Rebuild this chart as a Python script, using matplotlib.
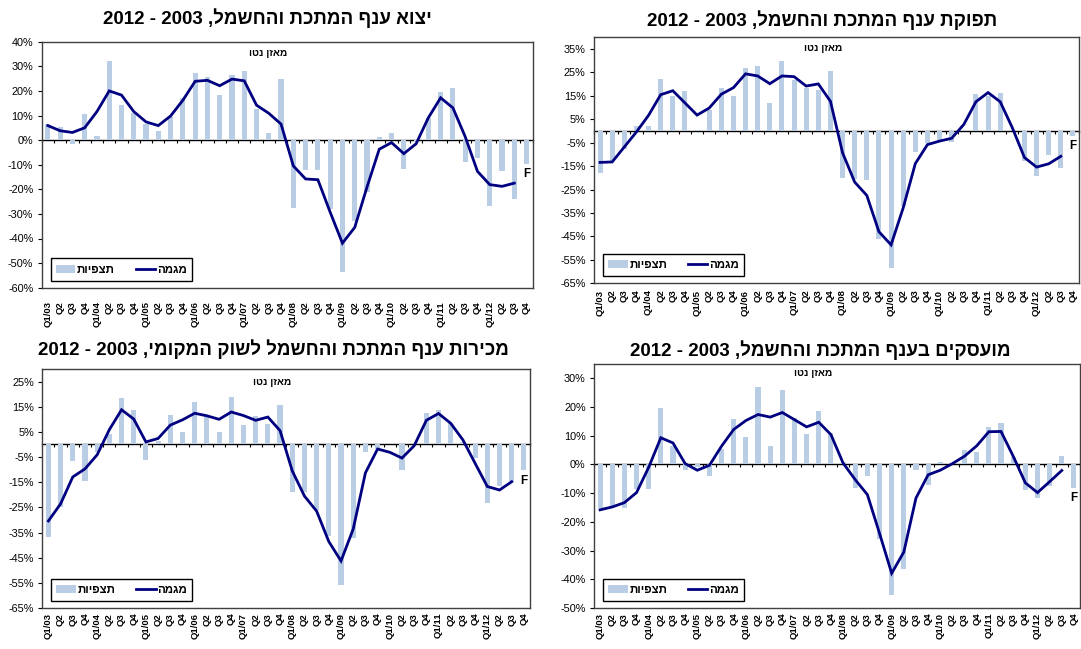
import re
import numpy as np
import matplotlib
matplotlib.use('Agg')
import matplotlib.pyplot as plt
from matplotlib.ticker import FuncFormatter

plt.rcParams['font.family'] = ['Liberation Sans', 'DejaVu Sans']

nan = np.nan

quarters = ['Q1/03', 'Q2', 'Q3', 'Q4', 'Q1/04', 'Q2', 'Q3', 'Q4',
            'Q1/05', 'Q2', 'Q3', 'Q4', 'Q1/06', 'Q2', 'Q3', 'Q4',
            'Q1/07', 'Q2', 'Q3', 'Q4', 'Q1/08', 'Q2', 'Q3', 'Q4',
            'Q1/09', 'Q2', 'Q3', 'Q4', 'Q1/10', 'Q2', 'Q3', 'Q4',
            'Q1/11', 'Q2', 'Q3', 'Q4', 'Q1/12', 'Q2', 'Q3', 'Q4']

# Export (top-left)
export_obs = [6.4, 5.3, -1.5, 10.6, 1.6, 32.3, 14.2, 11.0, 6.4, 3.7,
              9.3, 17.0, 27.1, 25.8, 18.3, 26.5, 28.0, 12.8, 2.7, 25.0,
              -27.4, -12.1, -12.3, -28.1, -53.5, -33.0, -20.9, 1.4, 2.9, -11.9,
              -0.5, 9.1, 19.4, 21.3, -8.7, -7.1, -26.9, -12.6, -23.9, -9.7]
export_trend = [5.9, 3.8, 3.1, 5.0, 11.6, 20.0, 18.3, 11.6, 7.4, 5.9,
                9.8, 16.2, 23.9, 24.3, 22.1, 24.8, 24.1, 14.2, 10.9, 6.5,
                -10.5, -15.8, -16.1, -29.3, -41.9, -35.5, -19.1, -3.7, -1.0, -5.5,
                -1.5, 9.1, 17.2, 13.1, 1.4, -12.7, -18.1, -18.8, -17.5, nan]

# Output (top-right)
output_obs = [-17.9, -13.0, -7.5, 2.0, 2.3, 22.1, 14.8, 17.0, 0.5, 9.0,
              18.5, 14.8, 26.9, 27.9, 12.0, 30.0, 21.9, 18.5, 17.7, 25.8,
              -20.1, -20.5, -20.9, -46.3, -58.5, -32.2, -9.1, -5.0, -4.0, -4.7,
              0.6, 15.7, 15.0, 16.4, 0.0, -12.7, -19.2, -10.3, -15.8, -2.0]
output_trend = [-13.4, -13.2, -6.8, -0.4, 6.7, 15.5, 17.2, 12.0, 6.8, 9.8,
                15.7, 18.5, 24.4, 23.5, 20.2, 23.5, 23.2, 19.2, 20.1, 12.7,
                -9.3, -21.8, -27.5, -43.0, -48.6, -32.8, -13.9, -5.8, -4.3, -3.1,
                2.8, 12.5, 16.4, 12.5, 1.4, -11.3, -15.4, -14.0, -10.8, nan]

# Domestic sales (bottom-left)
sales_obs = [-36.9, -24.8, -6.4, -14.4, -3.0, 4.1, 18.5, 13.6, -6.0, 1.3,
             11.9, 5.1, 16.7, 11.2, 5.0, 19.0, 7.9, 11.3, 8.3, 15.5,
             -18.9, -18.9, -26.0, -36.2, -56.0, -37.2, -3.1, -1.8, 0.0, -10.2,
             0.0, 12.5, 13.6, 8.4, 1.0, -5.2, -23.1, -16.7, -15.0, -10.3]
sales_trend = [-30.4, -23.6, -12.9, -9.7, -4.1, 5.9, 13.8, 10.1, 1.0, 2.4,
               7.7, 9.8, 12.4, 11.4, 10.0, 12.9, 11.5, 9.6, 10.9, 5.5,
               -10.5, -20.5, -26.5, -38.6, -46.3, -33.6, -11.3, -1.8, -3.1, -5.4,
               -0.5, 9.6, 12.3, 8.4, 1.8, -7.5, -16.7, -18.1, -14.8, nan]

# Employment (bottom-right)
employ_obs = [-15.1, -14.7, -15.3, -8.5, -8.5, 19.5, 6.4, -2.0, -1.0, -3.9,
              5.5, 15.8, 9.4, 26.9, 6.4, 26.1, 16.3, 10.5, 18.5, 11.1,
              1.0, -8.2, -4.1, -25.8, -45.3, -36.5, -1.9, -7.2, 1.0, 0.0,
              4.9, 4.2, 12.9, 14.4, 2.5, -8.8, -11.8, -7.4, 3.1, -8.2]
employ_trend = [-15.8, -14.8, -13.3, -9.8, -1.0, 9.3, 7.5, 0.3, -2.0, -0.3,
                6.4, 12.2, 15.3, 17.4, 16.5, 18.1, 15.6, 13.1, 14.7, 10.4,
                0.5, -5.3, -10.5, -24.0, -37.9, -30.5, -11.7, -3.6, -2.0, 0.3,
                2.9, 6.5, 11.4, 11.5, 2.9, -6.4, -9.8, -6.0, -2.1, nan]

titles = ['יצוא ענף המתכת והחשמל, 2003 - 2012',
          'תפוקת ענף המתכת והחשמל, 2003 - 2012',
          'מכירות ענף המתכת והחשמל לשוק המקומי, 2003 - 2012',
          'מועסקים בענף המתכת והחשמל, 2003 - 2012']
note_text = 'מאזן נטו'
legend_labels = ['תצפיות', 'מגמה']
forecast_label = 'F'


def vis(s):
    """Convert logical-order Hebrew to visual order for LTR rendering."""
    r = s[::-1]
    return re.sub(r'\d+', lambda m: m.group(0)[::-1], r)


BAR = '#B9CDE5'
LINE = '#000080'
SPINE = '#404040'
W, H = 1081, 649

panels = [
    dict(title=titles[0], obs=export_obs, trend=export_trend,
         box=(41.7, 41.7, 532.7, 287.7), ylim=(-60, 40), yt=range(-60, 41, 10),
         title_xy=(267, 18), note_xy=(0.461, 0.953), xpad=9.5),
    dict(title=titles[1], obs=output_obs, trend=output_trend,
         box=(594, 37.3, 1079, 283.3), ylim=(-65, 40), yt=range(-65, 36, 10),
         title_xy=(822, 20), note_xy=(0.472, 0.957), xpad=4.5),
    dict(title=titles[2], obs=sales_obs, trend=sales_trend,
         box=(42.3, 369, 530, 608), ylim=(-65, 30), yt=range(-65, 26, 10),
         title_xy=(273, 349), note_xy=(0.471, 0.946), xpad=3.5),
    dict(title=titles[3], obs=employ_obs, trend=employ_trend,
         box=(594, 364, 1080, 608), ylim=(-50, 35), yt=range(-50, 31, 10),
         title_xy=(820, 350), note_xy=(0.45, 0.963), xpad=3.5),
]

fig = plt.figure(figsize=(W / 100, H / 100), dpi=100)
x = np.arange(len(quarters))
pct = FuncFormatter(lambda v, p: f'{int(round(v))}%')

for P in panels:
    x0, y0, x1, y1 = P['box']
    ax = fig.add_axes([x0 / W, 1 - y1 / H, (x1 - x0) / W, (y1 - y0) / H])
    bars = ax.bar(x, P['obs'], width=0.42, color=BAR, zorder=2)
    line, = ax.plot(x, P['trend'], color=LINE, lw=2.0, zorder=4,
                    solid_joinstyle='miter')
    ax.set_xlim(-0.5, len(quarters) - 0.5)
    ax.set_ylim(*P['ylim'])
    ax.set_yticks(list(P['yt']))
    ax.yaxis.set_major_formatter(pct)
    ax.tick_params(axis='y', labelsize=7.8, length=3, width=0.8,
                   direction='out', pad=3, colors='black')
    ax.set_xticks(x)
    ax.set_xticklabels(quarters, rotation=90, fontsize=6.8, fontweight='bold')
    ax.tick_params(axis='x', length=0, pad=P['xpad'])
    for s in ax.spines.values():
        s.set_color(SPINE)
        s.set_linewidth(1.0)

    # zero (category) axis with boundary tick marks
    ymin, ymax = P['ylim']
    frac = (0 - ymin) / (ymax - ymin)
    sec = ax.secondary_xaxis(frac)
    sec.set_alignment('bottom')
    sec.set_xticks(np.arange(-0.5, len(quarters), 1.0))
    sec.tick_params(axis='x', length=2.5, width=0.8, direction='out',
                    labelbottom=False, labeltop=False, color='black')
    sec.spines['bottom'].set_color('black')
    sec.spines['bottom'].set_linewidth(1.0)

    ax.text(P['note_xy'][0], P['note_xy'][1], vis(note_text),
            transform=ax.transAxes, ha='center', va='center',
            fontsize=7.3, fontweight='bold')

    ax.annotate(forecast_label, xy=(x[-1], P['obs'][-1]), xytext=(0, -7.5),
                textcoords='offset points', ha='center', va='center',
                fontsize=8.5, fontweight='bold')

    leg = ax.legend([bars, line], [vis(legend_labels[0]), vis(legend_labels[1])],
                    ncol=2, loc='lower left', bbox_to_anchor=(0.018, 0.028),
                    borderaxespad=0, frameon=True, fancybox=False,
                    edgecolor='black', framealpha=1,
                    prop=dict(weight='bold', size=8.3),
                    handlelength=1.7, handletextpad=0.15, columnspacing=1.8,
                    borderpad=0.45)
    leg.get_frame().set_linewidth(1.0)

    fig.text(P['title_xy'][0] / W, 1 - P['title_xy'][1] / H, vis(P['title']),
             ha='center', va='center', fontsize=13.5, fontweight='bold')

fig.savefig('out.png', dpi=100)
